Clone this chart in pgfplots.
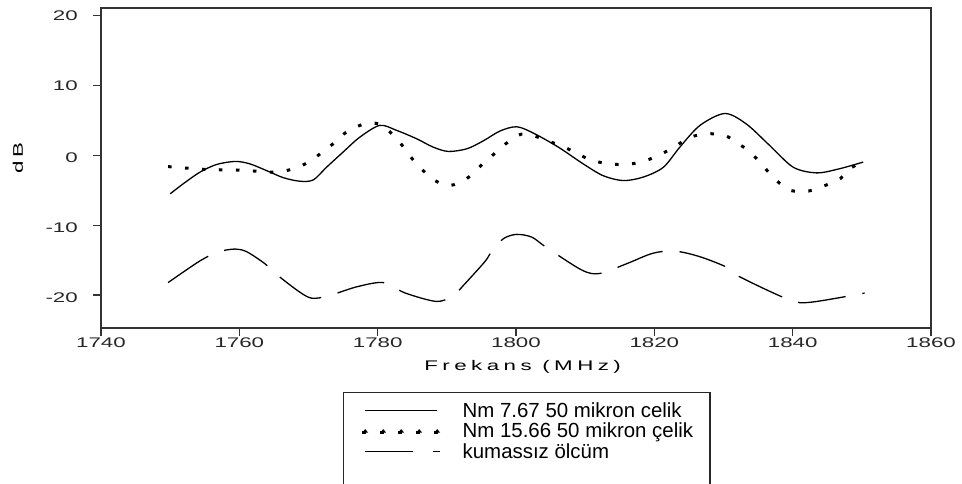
\documentclass[border=0pt]{standalone}
\usepackage{fontspec}
\setmainfont{Liberation Sans}
\newfontfamily\tickfont[FakeStretch=1.6]{Liberation Sans}
\newfontfamily\labfont[FakeStretch=1.6,LetterSpace=32]{Liberation Sans}
\usepackage{pgfplots}
\pgfplotsset{compat=1.18}

\pgfplotstableread{
f db
1750 -5.5
1751.9 -4.05
1754.3 -2.4
1756.7 -1.3
1759.4 -0.86
1761.5 -1.2
1764 -2.2
1766.4 -3.2
1768.8 -3.7
1770.7 -3.5
1772.6 -1.7
1775 0.48
1777.4 2.6
1780.3 4.3
1782.7 3.6
1785.6 2.4
1788 1.2
1790.2 0.57
1792.9 0.95
1795.3 2.1
1797.7 3.5
1800.1 4.1
1802.5 3.2
1806.1 1.2
1809.7 -1.2
1812.6 -2.9
1815.5 -3.6
1818.4 -3.1
1821.3 -1.7
1823.7 1.2
1826.6 4.3
1830.2 6.0
1833.3 4.5
1836.7 1.4
1840.1 -1.7
1843.5 -2.5
1846.8 -1.9
1850.2 -0.95
}\serA

\pgfplotstableread{
f db
1749.7 -1.6
1755 -2.0
1760 -2.1
1765.2 -2.4
1767.8 -1.9
1770 -0.95
1773.1 1.3
1775.7 3.5
1778.5 4.6
1780.6 4.3
1783 2.1
1785.6 -1.2
1788.3 -3.6
1790.5 -4.3
1792.9 -3.3
1795.2 -1.2
1797.7 0.95
1799.1 2.1
1801.4 3.1
1806.4 1.4
1808.5 0.47
1810.9 -0.7
1813.6 -1.2
1816 -1.3
1818.6 -0.8
1821.1 0.24
1823.2 1.43
1825.2 2.6
1827.6 3.1
1830.2 2.86
1832.1 1.7
1833.6 0.7
1834.8 -0.48
1836.7 -2.6
1837.9 -3.8
1839.6 -5.0
1842.3 -5.1
1844.7 -4.3
1846.9 -3.3
1848.1 -2.0
1850 -0.95
}\serB

\pgfplotstableread{
f db
1749.7 -18.2
1754.3 -15.1
1757 -13.8
1759.4 -13.4
1761.1 -13.8
1763.7 -15.5
1765.2 -16.9
1770 -20.3
1773.1 -20.0
1777 -18.8
1780.8 -18.2
1784 -19.7
1788.5 -20.9
1790.9 -20.1
1792.4 -18.6
1795.5 -15.2
1796.5 -13.7
1798.2 -11.9
1800.1 -11.3
1802.3 -11.7
1804.3 -13.1
1809.5 -16.4
1812.1 -16.9
1816 -15.5
1819.8 -14.0
1823 -13.7
1826.6 -14.5
1830.7 -16.1
1832.4 -17.4
1839.6 -20.7
1842.7 -21.0
1850.4 -19.7
}\serC

\begin{document}
\begin{tikzpicture}
\path[use as bounding box] (0bp,0bp) rectangle (962bp,484bp);
\begin{axis}[
  at={(101bp,156bp)}, anchor=south west,
  scale only axis, width=830bp, height=320bp,
  xmin=1740, xmax=1860, ymin=-24.7, ymax=21.1,
  xtick={1740,1760,...,1860}, ytick={-20,-10,0,10,20},
  xticklabels={}, yticklabels={},
  tick align=outside, tick pos=left, major tick length=8bp,
  axis line style={black!80, line width=1.5bp},
  every tick/.style={black!80, line width=1.5bp},
  extra description/.code={
    \foreach \v/\p in {1740/0,1760/0.16667,1780/0.33333,1800/0.5,1820/0.66667,1840/0.83333,1860/1}{
      \node[font=\tickfont\fontsize{14}{16}\selectfont, text=black!85, inner sep=0pt, anchor=center]
        at (axis description cs:\p,-0.0469) {\v};}
    \foreach \v/\p in {20/0.975,10/0.75625,0/0.53125,-10/0.3125,-20/0.09375}{
      \node[font=\tickfont\fontsize{14}{16}\selectfont, text=black!85, inner sep=0pt, anchor=east]
        at (axis description cs:-0.0277,\p) {\v};}
  },
  xlabel={Frekans (MHz)}, ylabel={dB},
  label style={font=\labfont\fontsize{14}{16}\selectfont},
  xlabel style={at={(axis description cs:0.508,-0.1219)}, anchor=center},
  ylabel style={at={(axis description cs:-0.1,0.531)}, anchor=center},
  legend cell align=left,
  legend style={at={(axis description cs:0.2916,-0.2)}, anchor=north west,
    draw=black!85, line width=1.3bp, font=\fontsize{20.5}{22}\selectfont,
    row sep=4bp, inner xsep=17bp, inner ysep=10bp,
    nodes={inner xsep=0bp, inner ysep=0bp},
    /tikz/every odd column/.append style={column sep=21bp}},
]
\addplot[black, line width=1.3bp, smooth,
  legend image code/.code={\draw[black, line width=1.3bp] (0bp,0bp)--(72bp,0bp);}]
  table[x=f,y=db]{\serA};
\addlegendentry{Nm 7.67 50 mikron celik}
\addplot[black, line width=3bp, smooth, dash pattern=on 3.5bp off 13.5bp,
  legend image code/.code={
    \fill[black] (-3bp,-1.5bp)--(3bp,-1.5bp)--(0bp,2bp)--cycle;
    \fill[black] (15bp,-1.5bp)--(21bp,-1.5bp)--(18bp,2bp)--cycle;
    \fill[black] (33bp,-1.5bp)--(39bp,-1.5bp)--(36bp,2bp)--cycle;
    \fill[black] (51bp,-1.5bp)--(57bp,-1.5bp)--(54bp,2bp)--cycle;
    \fill[black] (69bp,-1.5bp)--(75bp,-1.5bp)--(72bp,2bp)--cycle;}]
  table[x=f,y=db]{\serB};
\addlegendentry{Nm 15.66 50 mikron çelik\rule[-11bp]{0pt}{0pt}}
\addplot[black, line width=1.3bp, smooth, dash pattern=on 48bp off 17bp,
  legend image code/.code={\draw[black, line width=1.3bp] (0bp,0bp)--(48bp,0bp); \draw[black, line width=1.3bp] (68bp,0bp)--(75bp,0bp);}]
  table[x=f,y=db]{\serC};
\addlegendentry{kumassız ölcüm}
\addlegendimage{empty legend}
\addlegendentry{\rule{0pt}{24bp}}
\end{axis}
\end{tikzpicture}
\end{document}
